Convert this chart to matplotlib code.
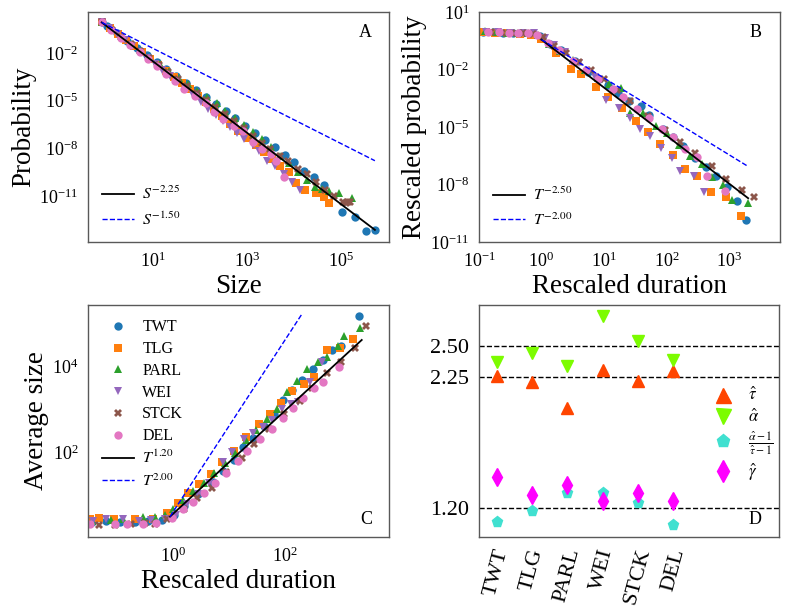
import numpy as np
import matplotlib
matplotlib.use("Agg")
import matplotlib.pyplot as plt

plt.rcParams['font.family'] = ['Liberation Serif', 'DejaVu Serif']
plt.rcParams['mathtext.fontset'] = 'stix'

names = ['TWT', 'TLG', 'PARL', 'WEI', 'STCK', 'DEL']
colors = ['#1f77b4', '#ff7f0e', '#2ca02c', '#9467bd', '#8c564b', '#e377c2']
markers = ['o', 's', '^', 'v', 'X', 'o']

# ---- panel A: size distributions (log10 values)
twt_a_lx = [-0.085, 0.03, 0.24, 0.45, 0.66, 0.87, 1.08, 1.29, 1.50, 1.71, 1.92, 2.13, 2.34, 2.55, 2.75, 2.96,
            3.17, 3.38, 3.60, 3.81, 4.01, 4.22, 4.43, 4.64, 5.03, 5.29, 5.53, 5.73]
twt_a_ly = [-0.075, -0.31, -0.76, -1.22, -1.67, -2.12, -2.57, -3.02, -3.47, -3.90, -4.36, -4.80, -5.22, -5.67,
            -6.09, -6.57, -7.03, -7.47, -7.94, -8.40, -8.86, -9.40, -9.82, -10.30, -12.04, -12.30, -13.20, -13.16]
tlg_a_lx = [-0.085, 0.09, 0.26, 0.43, 0.60, 0.77, 0.94, 1.11, 1.28, 1.45, 1.62, 1.79, 1.96, 2.13, 2.30, 2.47,
            2.64, 2.81, 3.03, 3.20, 3.37, 3.53, 3.71, 3.89, 4.04, 4.23, 4.47, 4.63, 4.74]
tlg_a_ly = [-0.075, -0.44, -0.82, -1.20, -1.58, -1.96, -2.35, -2.73, -3.11, -3.49, -3.87, -4.25, -4.69, -5.10,
            -5.53, -5.96, -6.44, -6.90, -7.35, -7.80, -8.25, -8.65, -9.13, -9.51, -10.20, -10.62, -10.80, -11.08, -11.43]
parl_a_lx = [-0.085, 0.15, 0.35, 0.55, 0.75, 0.95, 1.15, 1.35, 1.55, 1.75, 1.95, 2.15, 2.36, 2.54, 2.74, 2.93,
             3.13, 3.32, 3.51, 3.70, 3.89, 4.08, 4.27, 4.45, 4.60, 4.75, 4.96, 5.24]
parl_a_ly = [-0.075, -0.58, -1.02, -1.45, -1.88, -2.30, -2.72, -3.14, -3.58, -3.97, -4.41, -4.78, -5.18, -5.63,
             -6.12, -6.54, -6.99, -7.41, -7.94, -8.47, -8.95, -9.47, -10.0, -10.45, -10.55, -10.66, -10.81, -11.15]
wei_a_lx = [-0.085, 0.08, 0.24, 0.40, 0.56, 0.72, 0.88, 1.04, 1.20, 1.36, 1.52, 1.68, 1.86, 2.02, 2.18, 2.34,
            2.49, 2.64, 2.79, 2.94, 3.12, 3.26, 3.43, 3.60, 3.78, 3.95, 4.13]
wei_a_ly = [-0.075, -0.45, -0.82, -1.19, -1.56, -1.93, -2.31, -2.68, -3.06, -3.44, -3.82, -4.21, -4.65, -5.07,
            -5.52, -5.88, -6.28, -6.68, -7.04, -7.39, -7.81, -8.19, -8.77, -9.09, -9.60, -10.10, -10.60]
stck_a_lx = [-0.085, 0.13, 0.33, 0.53, 0.73, 0.93, 1.13, 1.33, 1.53, 1.73, 1.93, 2.13, 2.33, 2.53, 2.73, 2.93,
             3.13, 3.33, 3.50, 3.70, 3.87, 4.09, 4.28, 4.47, 4.66, 4.85, 5.05, 5.10, 5.15, 5.20]
stck_a_ly = [-0.075, -0.55, -1.00, -1.44, -1.88, -2.33, -2.76, -3.20, -3.64, -4.08, -4.52, -4.97, -5.41, -5.85,
             -6.30, -6.75, -7.20, -7.65, -8.05, -8.50, -8.77, -9.30, -9.60, -10.15, -10.60, -11.00, -11.40,
             -11.42, -11.40, -11.38]
del_a_lx = [-0.085, 0.12, 0.32, 0.52, 0.72, 0.90, 1.08, 1.28, 1.47, 1.67, 1.89, 2.13, 2.31, 2.50, 2.72, 2.91,
            3.14, 3.33, 3.51, 3.62, 3.79]
del_a_ly = [-0.075, -0.58, -1.05, -1.50, -1.95, -2.40, -2.82, -3.30, -3.76, -4.26, -4.73, -5.18, -5.70, -6.15,
            -6.62, -6.93, -7.62, -8.02, -8.33, -8.82, -9.80]

# ---- panel B: rescaled duration distributions
twt_b_lx = [-0.93, -0.77, -0.62, -0.46, -0.31, -0.15, -0.02, 0.14, 0.31, 0.53, 0.75, 0.92, 1.068, 1.228, 1.405,
            1.592, 1.725, 1.939, 2.11, 2.27, 2.457, 2.633, 2.793, 2.964, 3.135, 3.274]
twt_b_ly = [-0.03, -0.06, -0.07, -0.09, -0.10, -0.13, -0.25, -0.65, -1.00, -1.58, -2.15, -2.50, -2.83, -3.23,
            -3.63, -3.92, -4.36, -5.11, -5.54, -5.98, -6.62, -7.09, -7.58, -8.13, -8.85, -9.84]
tlg_b_lx = [-0.93, -0.75, -0.55, -0.35, -0.17, 0.0, 0.229, 0.48, 0.641, 0.87, 1.068, 1.282, 1.511, 1.709, 1.896,
            2.11, 2.302, 2.494, 2.708, 2.948, 3.189]
tlg_b_ly = [-0.02, -0.08, -0.10, -0.14, -0.20, -0.40, -1.14, -1.98, -2.22, -2.91, -3.45, -4.03, -4.71, -5.28,
            -5.87, -6.46, -7.18, -7.58, -8.39, -8.65, -9.63]
parl_b_lx = [-0.90, -0.72, -0.55, -0.38, -0.21, -0.05, 0.12, 0.30, 0.50, 0.70, 0.90, 1.08, 1.271, 1.426, 1.629,
             1.832, 2.014, 2.20, 2.377, 2.564, 2.724, 2.911, 3.045, 3.312]
parl_b_ly = [0.0, -0.06, -0.08, -0.10, -0.12, -0.20, -0.68, -1.05, -1.50, -2.00, -2.45, -2.75, -2.97, -4.27,
             -4.27, -4.97, -5.31, -5.94, -6.50, -6.93, -7.61, -8.01, -8.79, -8.97]
wei_b_lx = [-0.88, -0.70, -0.50, -0.30, -0.12, 0.05, 0.20, 0.38, 0.60, 0.854, 1.031, 1.244, 1.415, 1.576, 1.746,
            1.907, 2.083, 2.217, 2.441, 2.607]
wei_b_ly = [-0.04, -0.05, -0.08, -0.10, -0.12, -0.35, -0.72, -1.10, -1.65, -2.39, -3.61, -4.01, -4.53, -5.11,
            -5.49, -6.10, -6.62, -7.31, -7.58, -8.39]
stck_b_lx = [-0.80, -0.63, -0.47, -0.30, -0.13, 0.03, 0.20, 0.40, 0.60, 0.80, 1.00, 1.202, 1.415, 1.70, 1.976,
             2.217, 2.457, 2.724, 2.954, 3.216, 3.408]
stck_b_ly = [-0.05, -0.07, -0.07, -0.11, -0.14, -0.30, -0.75, -1.14, -1.60, -2.05, -2.50, -3.09, -3.63, -4.40,
             -5.14, -5.80, -6.36, -7.02, -7.70, -8.31, -8.67]
del_b_lx = [-0.85, -0.68, -0.52, -0.37, -0.22, -0.07, 0.10, 0.28, 0.50, 0.71, 0.908, 1.148, 1.309, 1.533, 1.725,
            1.923, 2.11, 2.297, 2.494, 2.655, 2.937]
del_b_ly = [-0.06, -0.06, -0.08, -0.09, -0.12, -0.18, -0.60, -1.00, -1.55, -2.04, -2.50, -3.00, -3.45, -4.06,
            -4.53, -5.11, -5.54, -6.15, -6.57, -7.54, -8.32]

# ---- panel C: average size vs rescaled duration
twt_c_lx = [-1.45, -1.20, -0.95, -0.68, -0.45, -0.20, 0.018, 0.20, 0.45, 0.72, 0.899, 1.089, 1.256, 1.434, 1.625,
            1.80, 1.97, 2.13, 2.297, 2.494, 2.673, 2.833, 3.0, 3.321]
twt_c_ly = [0.40, 0.42, 0.38, 0.39, 0.42, 0.44, 0.551, 0.75, 1.05, 1.326, 1.582, 1.83, 2.14, 2.35, 2.62, 2.90,
            3.23, 3.45, 3.68, 3.94, 4.15, 4.40, 4.47, 5.18]
tlg_c_lx = [-1.49, -1.33, -1.05, -0.68, -0.35, -0.11, 0.095, 0.274, 0.47, 0.673, 0.88, 1.089, 1.303, 1.536, 1.732,
            1.929, 2.131, 2.339, 2.518, 2.744, 2.982, 3.208]
tlg_c_ly = [0.47, 0.48, 0.46, 0.47, 0.45, 0.59, 0.838, 1.055, 1.27, 1.497, 1.78, 2.047, 2.357, 2.667, 2.892,
            3.148, 3.435, 3.59, 3.768, 4.381, 4.427, 4.637]
parl_c_lx = [-1.45, -1.10, -0.90, -0.53, -0.32, -0.15, -0.006, 0.18, 0.363, 0.559, 0.738, 0.92, 1.107, 1.298,
             1.48, 1.673, 1.863, 2.03, 2.208, 2.399, 2.595, 2.756, 2.952, 3.054, 3.339]
parl_c_ly = [0.42, 0.44, 0.47, 0.50, 0.51, 0.55, 0.691, 0.90, 1.109, 1.303, 1.52, 1.75, 1.985, 2.295, 2.52,
             2.776, 3.016, 3.404, 3.667, 3.947, 4.117, 4.233, 4.489, 4.722, 4.908]
wei_c_lx = [-1.42, -1.20, -0.90, -0.60, -0.40, -0.15, 0.05, 0.25, 0.45, 0.65, 0.887, 1.048, 1.268, 1.434, 1.60,
            1.762, 1.94, 2.101, 2.238, 2.45, 2.655]
wei_c_ly = [0.42, 0.45, 0.45, 0.41, 0.43, 0.45, 0.55, 0.80, 1.05, 1.30, 1.776, 2.024, 2.311, 2.45, 2.60, 2.76,
            3.016, 3.133, 3.171, 3.65, 4.117]
stck_c_lx = [-1.33, -1.04, -0.75, -0.50, -0.32, -0.10, 0.20, 0.423, 0.69, 0.95, 1.226, 1.446, 1.72, 1.988, 2.268,
             2.476, 2.756, 2.994, 3.25, 3.446]
stck_c_ly = [0.32, 0.32, 0.34, 0.36, 0.35, 0.45, 0.70, 0.939, 1.187, 1.55, 1.885, 2.202, 2.55, 2.892, 3.202,
             3.497, 3.846, 4.117, 4.443, 4.947]
del_c_lx = [-1.49, -1.04, -0.82, -0.53, -0.30, -0.024, 0.173, 0.351, 0.559, 0.75, 0.946, 1.155, 1.327, 1.554,
            1.762, 1.958, 2.149, 2.327, 2.518, 2.685, 2.97]
del_c_ly = [0.34, 0.34, 0.34, 0.35, 0.36, 0.474, 0.691, 0.846, 1.055, 1.303, 1.52, 1.815, 2.04, 2.319, 2.551,
            2.815, 3.047, 3.28, 3.497, 3.652, 4.0]

# ---- panel D: fitted exponents
tau_hat = [2.26, 2.21, 2.00, 2.31, 2.22, 2.30]
alpha_hat = [2.37, 2.44, 2.34, 2.74, 2.54, 2.39]
ratio_hat = [1.087, 1.176, 1.32, 1.32, 1.238, 1.058]
gamma_hat = [1.45, 1.30, 1.38, 1.256, 1.315, 1.25]
ref_levels = [2.50, 2.25, 1.20]

W, H = 785, 615
fig = plt.figure(figsize=(W / 100, H / 100), dpi=100)


def px_axes(l, t, r, b):
    return fig.add_axes([l / W, 1 - b / H, (r - l) / W, (b - t) / H])


def style(ax, size=13):
    for s in ax.spines.values():
        s.set_color('0.35')
        s.set_linewidth(1.0)
    ax.tick_params(which='both', length=0, labelsize=size, pad=7)


def scatter_sets(ax, lxs, lys, labels=True):
    for lx, ly, c, m, n in zip(lxs, lys, colors, markers, names):
        ax.plot(10 ** np.array(lx), 10 ** np.array(ly), ls='none', marker=m, color=c, ms=6,
                mew=0, label=n if labels else None)


lab = 19.5
leg_kw = dict(frameon=False, handlelength=2.0, handletextpad=0.5)

# A
axA = px_axes(88, 12, 389, 242)
scatter_sets(axA, [twt_a_lx, tlg_a_lx, parl_a_lx, wei_a_lx, stck_a_lx, del_a_lx],
             [twt_a_ly, tlg_a_ly, parl_a_ly, wei_a_ly, stck_a_ly, del_a_ly])
x0, y0 = 10 ** -0.085, 10 ** -0.075
s = np.logspace(-0.085, 5.72, 50)
axA.plot(s, y0 * (s / x0) ** -2.25, 'k-', lw=1.3)
axA.plot(s, y0 * (s / x0) ** -1.5, 'b--', lw=1.0)
axA.set_xscale('log')
axA.set_yscale('log')
axA.set_xlim(10 ** -0.376, 10 ** 6.02)
axA.set_ylim(10 ** -13.9, 10 ** 0.58)
axA.set_xticks([1e1, 1e3, 1e5])
axA.set_yticks([1e-2, 1e-5, 1e-8, 1e-11])
style(axA)
axA.set_xlabel('Size', fontsize=lab, labelpad=2)
axA.set_ylabel('Probability', fontsize=lab, labelpad=2)
hA = axA.get_lines()[-2:]
axA.legend(hA, [r'$S^{-2.25}$', r'$S^{-1.50}$'], loc='lower left', fontsize=11.5,
           bbox_to_anchor=(0.0, -0.005), **leg_kw)
axA.text(0.92, 0.91, 'A', transform=axA.transAxes, fontsize=13, ha='center', va='center')

# B
axB = px_axes(479, 12, 780, 242)
scatter_sets(axB, [twt_b_lx, tlg_b_lx, parl_b_lx, wei_b_lx, stck_b_lx, del_b_lx],
             [twt_b_ly, tlg_b_ly, parl_b_ly, wei_b_ly, stck_b_ly, del_b_ly])
t = np.logspace(0, 3.31, 50)
y0b = 10 ** -0.44
axB.plot(t, y0b * t ** -2.5, 'k-', lw=1.3)
axB.plot(t, y0b * t ** -2.0, 'b--', lw=1.0)
axB.set_xscale('log')
axB.set_yscale('log')
axB.set_xlim(0.1, 10 ** 3.82)
axB.set_ylim(1e-11, 10)
axB.set_xticks([1e-1, 1e0, 1e1, 1e2, 1e3])
axB.set_yticks([1e1, 1e-2, 1e-5, 1e-8, 1e-11])
style(axB)
axB.set_xlabel('Rescaled duration', fontsize=lab, labelpad=2)
axB.set_ylabel('Rescaled probability', fontsize=lab, labelpad=2)
hB = axB.get_lines()[-2:]
axB.legend(hB, [r'$T^{-2.50}$', r'$T^{-2.00}$'], loc='lower left', fontsize=11.5,
           bbox_to_anchor=(0.0, -0.005), **leg_kw)
axB.text(0.92, 0.91, 'B', transform=axB.transAxes, fontsize=13, ha='center', va='center')

# C
axC = px_axes(88, 305, 389, 537)
scatter_sets(axC, [twt_c_lx, tlg_c_lx, parl_c_lx, wei_c_lx, stck_c_lx, del_c_lx],
             [twt_c_ly, tlg_c_ly, parl_c_ly, wei_c_ly, stck_c_ly, del_c_ly])
x0c, y0c = 10 ** -0.054, 10 ** 0.513
tc1 = np.logspace(-0.054, 3.37, 50)
tc2 = np.logspace(-0.054, 2.30, 50)
axC.plot(tc1, y0c * (tc1 / x0c) ** 1.2, 'k-', lw=1.3, label=r'$T^{1.20}$')
axC.plot(tc2, y0c * (tc2 / x0c) ** 2.0, 'b--', lw=1.0, label=r'$T^{2.00}$')
axC.set_xscale('log')
axC.set_yscale('log')
axC.set_xlim(10 ** -1.518, 10 ** 3.857)
axC.set_ylim(10 ** 0.04, 10 ** 5.435)
axC.set_xticks([1e0, 1e2])
axC.set_yticks([1e2, 1e4])
style(axC)
axC.set_xlabel('Rescaled duration', fontsize=lab, labelpad=2)
axC.set_ylabel('Average size', fontsize=lab, labelpad=2)
axC.legend(loc='upper left', fontsize=11.5, labelspacing=0.36, bbox_to_anchor=(0.0, 1.0), **leg_kw)
axC.text(0.923, 0.075, 'C', transform=axC.transAxes, fontsize=13, ha='center', va='center')

# D
axD = px_axes(479, 305, 779, 537)
xs = np.arange(len(names))
for lv in ref_levels:
    axD.axhline(lv, color='k', ls='--', lw=1.0)
axD.plot(xs, tau_hat, ls='none', marker='^', color='orangered', ms=9, label=r'$\hat{\tau}$')
axD.plot(xs, alpha_hat, ls='none', marker='v', color='lawngreen', ms=9, label=r'$\hat{\alpha}$')
axD.plot(xs, ratio_hat, ls='none', marker='p', color='turquoise', ms=8,
         label=r'$\frac{\hat{\alpha}-1}{\hat{\tau}-1}$')
axD.plot(xs, gamma_hat, ls='none', marker='d', color='magenta', ms=9, label=r'$\hat{\gamma}$')
axD.set_xlim(-0.5, 8)
axD.set_ylim(0.964, 2.83)
axD.set_yticks(ref_levels)
axD.set_yticklabels(['%.2f' % v for v in ref_levels])
axD.set_xticks(xs)
axD.set_xticklabels(names, rotation=75)
style(axD, size=16)
axD.legend(loc='center left', bbox_to_anchor=(0.72, 0.44), frameon=False, fontsize=12, markerscale=1.2,
           handlelength=1.5, labelspacing=0.25)
axD.text(0.92, 0.075, 'D', transform=axD.transAxes, fontsize=13, ha='center', va='center')

fig.savefig('out.png', dpi=100)
